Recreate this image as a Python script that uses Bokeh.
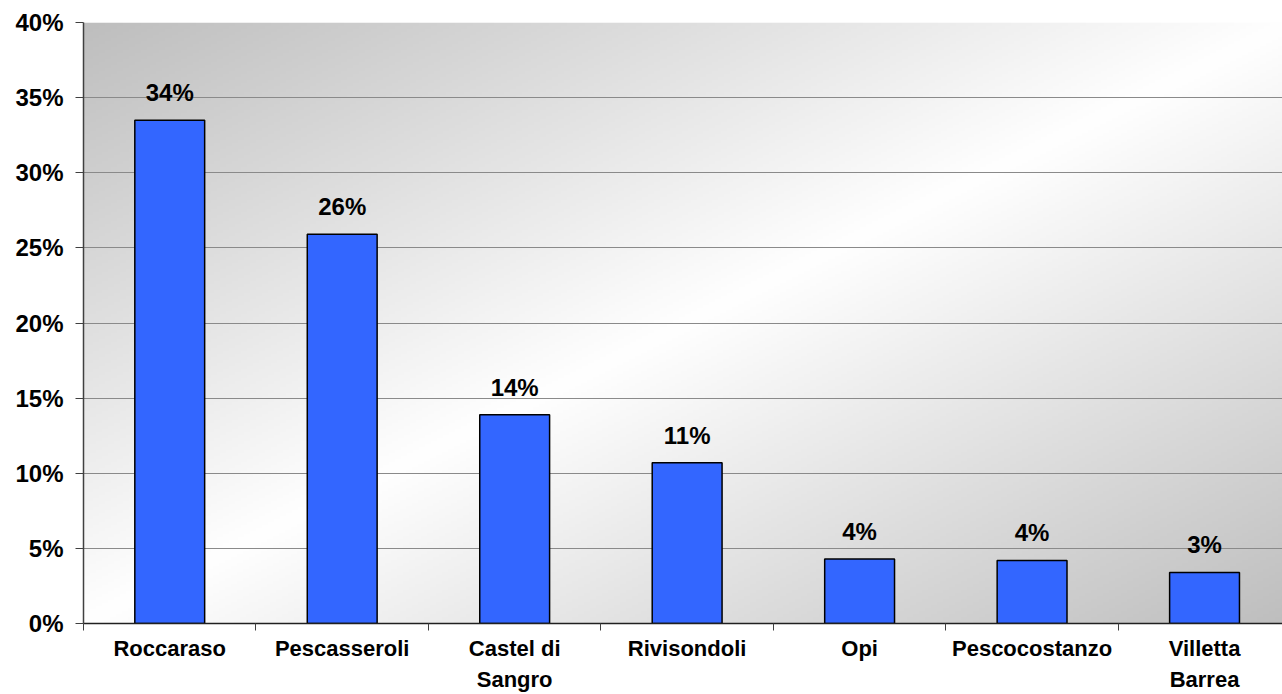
import numpy as np
from bokeh.plotting import figure
from bokeh.models import FixedTicker, ColumnDataSource, NumeralTickFormatter, Range1d
from bokeh.core.properties import value
from bokeh.embed import file_html
from bokeh.resources import INLINE

categories = ["Roccaraso", "Pescasseroli", "Castel di\nSangro", "Rivisondoli", "Opi", "Pescocostanzo", "Villetta\nBarrea"]
shares = [0.335, 0.259, 0.139, 0.107, 0.043, 0.042, 0.034]
share_labels = ["34%", "26%", "14%", "11%", "4%", "4%", "3%"]
y_ticks = [0, 0.05, 0.10, 0.15, 0.20, 0.25, 0.30, 0.35, 0.40]

FONT = "Liberation Sans"
xs = list(range(len(categories)))

p = figure(width=1282, height=694, output_backend="svg", toolbar_location=None,
           x_range=Range1d(-0.5, 6.452), y_range=Range1d(0, 0.40),
           min_border_left=83, min_border_right=0, min_border_top=22, min_border_bottom=71)
p.outline_line_color = None
p.background_fill_color = "white"
p.border_fill_color = "white"

# gradient background (gray at top-left and bottom-right, white along the other diagonal)
ny, nx = 200, 400
xf = np.linspace(0, 1, nx)[None, :]
yf = np.linspace(0, 1, ny)[:, None]
d = np.abs(xf - yf)
g = (255 - d * (255 - 190)).astype(np.uint32)
img = (255 << 24) | (g << 16) | (g << 8) | g
p.image_rgba(image=[img.astype(np.uint32)], x=-0.5, y=0, dw=7, dh=0.40, level="image")

# grid
p.xgrid.grid_line_color = None
p.ygrid.grid_line_color = "#8a8a8a"
p.ygrid.grid_line_width = 1
p.ygrid.level = "image"

src = ColumnDataSource(dict(x=xs, top=shares, lab=share_labels))
p.vbar(x="x", top="top", width=0.405, source=src, fill_color="#3366FF",
       line_color="black", line_width=1.5)
p.text(x="x", y="top", text="lab", source=src, text_align="center", text_baseline="bottom",
       y_offset=-14, text_font=value(FONT), text_font_style="bold", text_font_size="24px",
       text_color="black")

# y axis
p.yaxis.ticker = FixedTicker(ticks=y_ticks)
p.yaxis.formatter = NumeralTickFormatter(format="0%")
p.yaxis.major_label_text_font = FONT
p.yaxis.major_label_text_font_style = "bold"
p.yaxis.major_label_text_font_size = "24px"
p.yaxis.major_label_text_color = "black"
p.yaxis.axis_line_color = "#404040"
p.yaxis.axis_line_width = 1.5
p.yaxis.major_tick_line_color = "#404040"
p.yaxis.major_tick_out = 8
p.yaxis.major_tick_in = 0
p.yaxis.minor_tick_line_color = None
p.yaxis.major_label_standoff = 12

# x axis: labels at centres, ticks at category boundaries
p.xaxis.ticker = FixedTicker(ticks=xs, minor_ticks=[i - 0.5 for i in range(len(categories) + 1)])
p.xaxis.major_label_overrides = {i: c for i, c in enumerate(categories)}
p.xaxis.major_tick_line_color = None
p.xaxis.minor_tick_line_color = "#404040"
p.xaxis.minor_tick_out = 7
p.xaxis.minor_tick_in = 0
p.xaxis.axis_line_color = "#202020"
p.xaxis.axis_line_width = 1.5
p.xaxis.major_label_text_font = FONT
p.xaxis.major_label_text_font_style = "bold"
p.xaxis.major_label_text_font_size = "22px"
p.xaxis.major_label_text_color = "black"
p.xaxis.major_label_standoff = 5
p.xaxis.major_label_text_line_height = 1.25

open("out.html", "w").write(file_html(p, INLINE))
